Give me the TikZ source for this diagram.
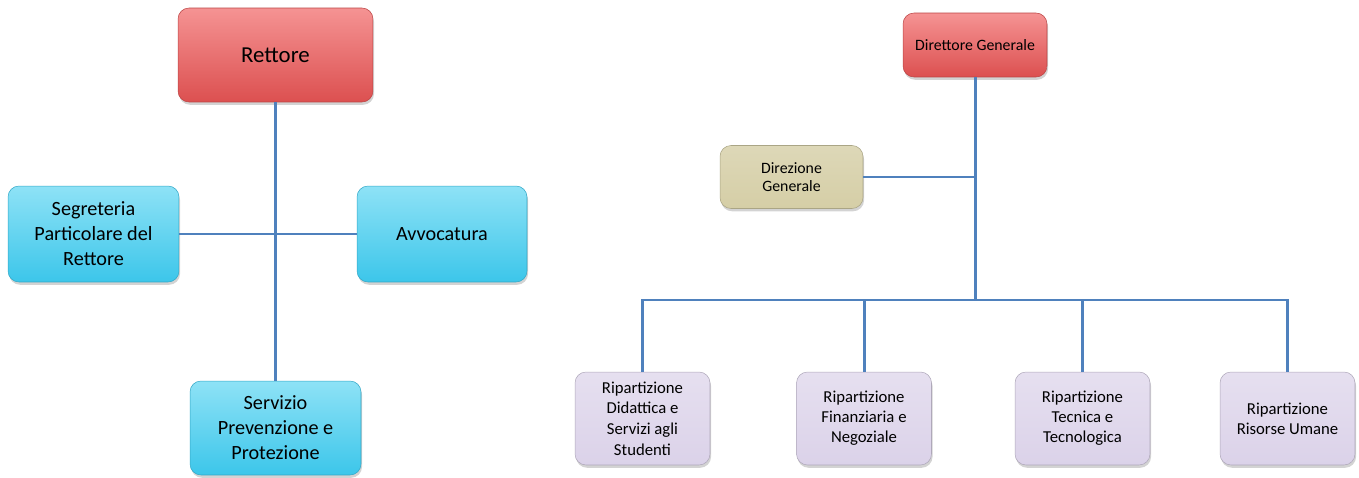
\documentclass[tikz,border=0pt]{standalone}
\usepackage{fontspec}
\setmainfont{Carlito}
\usetikzlibrary{shadows}

\definecolor{lineblue}{HTML}{4F81BD}
\definecolor{redtop}{HTML}{F59393}
\definecolor{redbot}{HTML}{DC5050}
\definecolor{cyantop}{HTML}{8EE2F6}
\definecolor{cyanbot}{HTML}{3CC6EA}
\definecolor{tanfill}{HTML}{D5CEA6}
\definecolor{lilacfill}{HTML}{DBD2E9}

\tikzset{
  box/.style={rounded corners=0.22cm, align=center, inner sep=2pt,
    drop shadow={opacity=0.35, shadow xshift=0.6pt, shadow yshift=-1.6pt}},
  redbox/.style={box, draw=redbot!85!black, line width=0.3pt,
    top color=redtop, bottom color=redbot},
  cyanbox/.style={box, draw=cyanbot!85!black, line width=0.3pt,
    top color=cyantop, bottom color=cyanbot},
  tanbox/.style={box, draw=tanfill!80!black, line width=0.3pt,
    top color=tanfill!80!white, bottom color=tanfill},
  lilacbox/.style={box, draw=lilacfill!80!black, line width=0.3pt,
    top color=lilacfill!70!white, bottom color=lilacfill},
  link/.style={draw=lineblue, line width=1.7pt}
}

\begin{document}
\begin{tikzpicture}[x=0.02cm, y=-0.02cm]
  \useasboundingbox (0,0) rectangle (1359,477);

  %	Left chart: Rettore and his offices
  \node[redbox, minimum width=3.9cm, minimum height=1.88cm,
    font=\fontsize{13}{15}\selectfont] (rettore) at (275.5,55) {Rettore};
  \node[cyanbox, minimum width=3.42cm, minimum height=1.92cm,
    font=\fontsize{11.5}{14.2}\selectfont] (segreteria) at (93.5,234)
    {Segreteria\\Particolare del\\Rettore};
  \node[cyanbox, minimum width=3.4cm, minimum height=1.92cm,
    font=\fontsize{11.5}{14.2}\selectfont] (avvocatura) at (442,234) {Avvocatura};
  \node[cyanbox, minimum width=3.42cm, minimum height=1.88cm,
    font=\fontsize{11.5}{14.2}\selectfont] (servizio) at (275.5,428)
    {Servizio\\Prevenzione e\\Protezione};

  \draw[link] (rettore.south) -- (servizio.north);% vertical line
  \draw[link] (segreteria.east) -- (avvocatura.west);% horizontal line

  %	Right chart: Direttore Generale and the Ripartizioni
  \node[redbox, minimum width=2.88cm, minimum height=1.28cm,
    font=\fontsize{9}{11}\selectfont] (direttore) at (975,45) {Direttore Generale};
  \node[tanbox, minimum width=2.86cm, minimum height=1.26cm,
    font=\fontsize{9}{10.5}\selectfont] (direzione) at (791.5,177)
    {Direzione\\Generale};

  \node[lilacbox, minimum width=2.7cm, minimum height=1.86cm,
    font=\fontsize{9.5}{11.8}\selectfont] (didattica) at (642.5,418.5)
    {Ripartizione\\Didattica e\\Servizi agli\\Studenti};
  \node[lilacbox, minimum width=2.7cm, minimum height=1.86cm,
    font=\fontsize{9.5}{11.4}\selectfont] (finanziaria) at (864,418.5)
    {Ripartizione\\Finanziaria e\\Negoziale};
  \node[lilacbox, minimum width=2.7cm, minimum height=1.86cm,
    font=\fontsize{9.5}{11.4}\selectfont] (tecnica) at (1082.5,418.5)
    {Ripartizione\\Tecnica e\\Tecnologica};
  \node[lilacbox, minimum width=2.7cm, minimum height=1.86cm,
    font=\fontsize{9.5}{11.4}\selectfont] (risorse) at (1287.5,418.5)
    {Ripartizione\\Risorse Umane};

  %	Bus line
  \coordinate (bus) at (975,300);
  \draw[link] (direttore.south) -- (bus);
  \draw[link] (direzione.east) -- (direzione.east -| direttore.south);
  \draw[link] (didattica.north) |- (risorse.north |- bus) -- (risorse.north);
  \draw[link] (finanziaria.north) -- (finanziaria.north |- bus);
  \draw[link] (tecnica.north) -- (tecnica.north |- bus);
\end{tikzpicture}
\end{document}
